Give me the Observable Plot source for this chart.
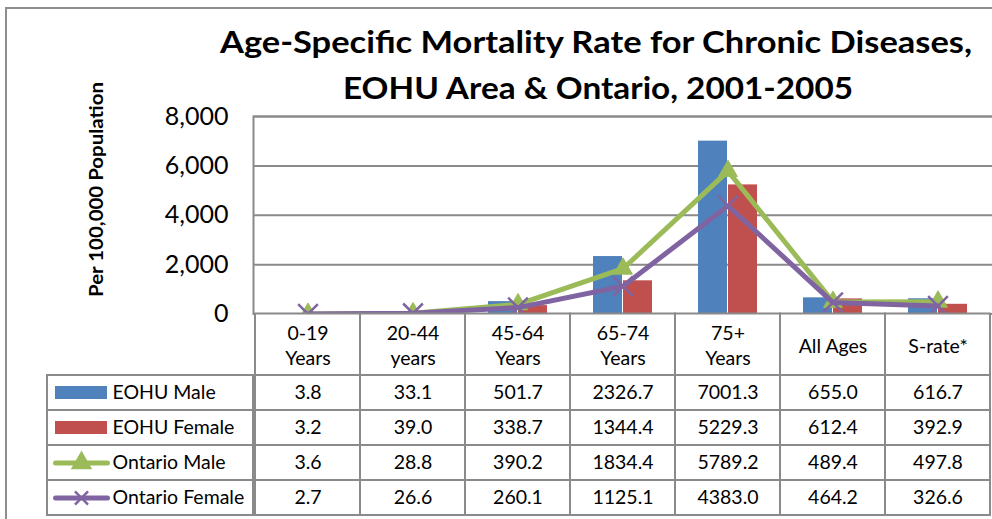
<!DOCTYPE html>
<html>
<head>
<meta charset="utf-8">
<script src="https://cdn.jsdelivr.net/npm/d3@7"></script>
<script src="https://cdn.jsdelivr.net/npm/@observablehq/plot@0.6"></script>
<style>
html, body { margin: 0; padding: 0; background: #fff; overflow: hidden; }
#wrap { position: relative; width: 992px; height: 519px; overflow: hidden; font-family: Lato, sans-serif; }
.abs { position: absolute; }
.abs svg { display: block; overflow: visible; }
#border { left: 5px; top: 7px; width: 1400px; height: 900px; border: 2px solid #8e8e8e; box-sizing: border-box; }
</style>
</head>
<body>
<div id="wrap">
  <div id="border" class="abs"></div>
  <div id="main" class="abs" style="left:0;top:0"></div>
  <div id="header" class="abs" style="left:0;top:312px"></div>
  <div id="rows" class="abs" style="left:0;top:373px"></div>
  <div id="legend" class="abs" style="left:45px;top:373px"></div>
  <svg id="overlay" class="abs" style="left:0;top:0;pointer-events:none" width="992" height="519">
    <text x="596" y="53.3" text-anchor="middle" font-family="Lato" font-weight="700" font-size="30" textLength="752" lengthAdjust="spacingAndGlyphs">Age-Specific Mortality Rate for Chronic Diseases,</text>
    <text x="598" y="99" text-anchor="middle" font-family="Lato" font-weight="700" font-size="30" textLength="510" lengthAdjust="spacingAndGlyphs">EOHU Area &amp; Ontario, 2001-2005</text>
    <text transform="translate(103,189.5) rotate(-90)" text-anchor="middle" font-family="Lato" font-weight="700" font-size="18" textLength="215" lengthAdjust="spacingAndGlyphs">Per 100,000 Population</text>
  </svg>
</div>
<script>
// ---- data ----
const categories = ["0-19\nYears", "20-44\nyears", "45-64\nYears", "65-74\nYears", "75+\nYears", "All Ages", "S-rate*"];
const series = ["EOHU Male", "EOHU Female", "Ontario Male", "Ontario Female"];
const eohuMale      = [3.8, 33.1, 501.7, 2326.7, 7001.3, 655.0, 616.7];
const eohuFemale    = [3.2, 39.0, 338.7, 1344.4, 5229.3, 612.4, 392.9];
const ontarioMale   = [3.6, 28.8, 390.2, 1834.4, 5789.2, 489.4, 497.8];
const ontarioFemale = [2.7, 26.6, 260.1, 1125.1, 4383.0, 464.2, 326.6];
const yTicks = [0, 2000, 4000, 6000, 8000];

// ---- styling ----
const colors = {"EOHU Male": "#4F81BD", "EOHU Female": "#C0504D", "Ontario Male": "#9BBB59", "Ontario Female": "#8064A2"};
const gray = "#8a8a8a";
const valuesBySeries = {"EOHU Male": eohuMale, "EOHU Female": eohuFemale, "Ontario Male": ontarioMale, "Ontario Female": ontarioFemale};

const rows = series.flatMap(s => categories.map((c, i) => ({cat: c, series: s, v: valuesBySeries[s][i]})));
const of = s => rows.filter(d => d.series === s);

// ---- main chart ----
const main = Plot.plot({
  width: 992, height: 320,
  marginTop: 116, marginBottom: 6.5, marginLeft: 253, marginRight: 0,
  x: {domain: categories, padding: 0, axis: null},
  y: {domain: [0, 8000], axis: null},
  style: {fontFamily: "Lato", fontSize: "25px", color: "#000", background: "transparent", overflow: "visible"},
  marks: [
    Plot.ruleY(yTicks, {stroke: gray, strokeWidth: 2}),
    Plot.frame({stroke: gray, strokeWidth: 2, insetRight: -8}),
    Plot.axisY({ticks: yTicks, tickSize: 0, tickPadding: 25, tickFormat: d3.format(","), label: null, fontSize: 25}),
    Plot.barY(of("EOHU Male"), {x: "cat", y: "v", fill: colors["EOHU Male"], insetLeft: 23, insetRight: 53}),
    Plot.barY(of("EOHU Female"), {x: "cat", y: "v", fill: colors["EOHU Female"], insetLeft: 53, insetRight: 23}),
    Plot.line(of("Ontario Male"), {x: "cat", y: "v", stroke: colors["Ontario Male"], strokeWidth: 5, strokeLinejoin: "round"}),
    Plot.dot(of("Ontario Male"), {x: "cat", y: "v", symbol: "triangle", r: 7, fill: colors["Ontario Male"], stroke: colors["Ontario Male"], strokeWidth: 1}),
    Plot.line(of("Ontario Female"), {x: "cat", y: "v", stroke: colors["Ontario Female"], strokeWidth: 5, strokeLinejoin: "round"}),
    Plot.dot(of("Ontario Female"), {x: "cat", y: "v", symbol: "times", r: 9, stroke: colors["Ontario Female"], strokeWidth: 2.5})
  ]
});
document.getElementById("main").appendChild(main);

// ---- table header row ----
const header = Plot.plot({
  width: 992, height: 64,
  marginTop: 1.5, marginBottom: 1, marginLeft: 253, marginRight: 0,
  x: {domain: categories, padding: 0, axis: null},
  style: {fontFamily: "Lato", fontSize: "19.5px", color: "#000", background: "transparent", overflow: "visible"},
  marks: [
    Plot.cell(categories, {x: d => d, fill: "white", stroke: gray, strokeWidth: 2}),
    Plot.text(categories, {x: d => d, text: d => d, lineHeight: 1.28, fontSize: 19.5, fill: "#000"})
  ]
});
document.getElementById("header").appendChild(header);

// ---- table data rows ----
const table = Plot.plot({
  width: 992, height: 146,
  marginTop: 2, marginBottom: 3.2, marginLeft: 253, marginRight: 0,
  x: {domain: categories, padding: 0, axis: null},
  y: {domain: series, padding: 0, axis: null},
  style: {fontFamily: "Lato", fontSize: "19.5px", color: "#000", background: "transparent", overflow: "visible"},
  marks: [
    Plot.cell(rows, {x: "cat", y: "series", fill: "white", stroke: gray, strokeWidth: 2}),
    Plot.text(rows, {x: "cat", y: "series", text: d => d.v.toFixed(1), fontSize: 19.5, fill: "#000"})
  ]
});
document.getElementById("rows").appendChild(table);

// ---- legend column ----
const swatchEnds = [0, 1];
const legendMarks = [
  Plot.cell(series, {y: d => d, fill: "white", stroke: gray, strokeWidth: 2})
];
for (const s of series.slice(0, 2)) {
  legendMarks.push(Plot.barX([s], {x1: () => 0, x2: () => 1, y: d => d, fill: colors[s], insetTop: 11, insetBottom: 11}));
}
const lineSwatches = series.slice(2).flatMap(s => swatchEnds.map(t => ({s, t})));
legendMarks.push(
  Plot.line(lineSwatches.filter(d => d.s === "Ontario Male"), {x: "t", y: "s", stroke: colors["Ontario Male"], strokeWidth: 5, strokeLinecap: "round"}),
  Plot.dot(["Ontario Male"], {x: () => 0.5, y: d => d, symbol: "triangle", r: 7, fill: colors["Ontario Male"], stroke: colors["Ontario Male"]}),
  Plot.line(lineSwatches.filter(d => d.s === "Ontario Female"), {x: "t", y: "s", stroke: colors["Ontario Female"], strokeWidth: 5, strokeLinecap: "round"}),
  Plot.dot(["Ontario Female"], {x: () => 0.5, y: d => d, symbol: "times", r: 6, stroke: colors["Ontario Female"], strokeWidth: 2.5}),
  Plot.text(series, {x: () => 1, y: d => d, text: d => d, textAnchor: "start", dx: 5, fontSize: 19.5, fill: "#000"})
);
const legend = Plot.plot({
  width: 210, height: 146,
  marginTop: 2, marginBottom: 3.2, marginLeft: 2, marginRight: 2,
  x: {domain: [0, 1], range: [10, 62], axis: null},
  y: {domain: series, padding: 0, axis: null},
  style: {fontFamily: "Lato", fontSize: "19.5px", color: "#000", background: "transparent", overflow: "visible"},
  marks: legendMarks
});
document.getElementById("legend").appendChild(legend);
</script>
</body>
</html>
